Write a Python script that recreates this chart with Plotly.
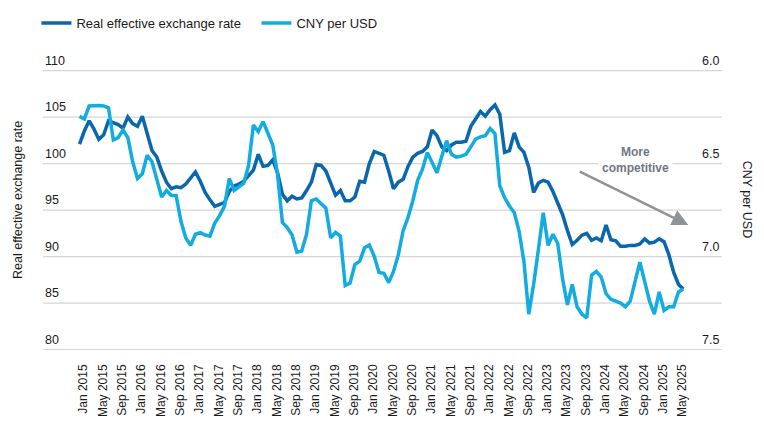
import plotly.graph_objects as go

# month categories Jan 2015 .. Jun 2025
years = list(range(2015, 2026))
month_names = ["Jan", "Feb", "Mar", "Apr", "May", "Jun",
               "Jul", "Aug", "Sep", "Oct", "Nov", "Dec"]
months = [m + " " + str(y) for y in years for m in month_names][:126]
tick_labels = months[::4]

# real effective exchange rate (left axis)
reer = [
    102.1, 103.5, 104.6, 103.7, 102.6, 103.1, 104.6, 104.4, 104.2, 103.8, 105.0, 104.3,
    104.0, 105.1, 103.1, 101.4, 100.7, 99.2, 98.0, 97.3, 97.5, 97.4, 97.8, 98.5,
    99.1, 98.1, 96.9, 96.1, 95.4, 95.6, 95.8, 97.0, 97.6, 97.8, 98.1, 98.7,
    99.3, 101.0, 99.7, 99.8, 100.4, 99.0, 96.7, 96.0, 96.5, 96.2, 96.3, 97.1,
    98.0, 99.9, 99.8, 99.2, 97.8, 96.6, 97.1, 96.0, 96.0, 96.4, 98.1, 98.0,
    100.0, 101.3, 101.1, 100.9, 99.2, 97.3, 98.0, 98.3, 99.7, 100.7, 101.1, 101.3,
    101.8, 103.6, 103.0, 101.8, 101.4, 102.0, 102.3, 102.3, 102.4, 104.0, 104.8, 105.6,
    105.1, 105.8, 106.3, 105.3, 101.2, 101.4, 103.3, 101.8, 101.2, 99.6, 96.9, 97.9,
    98.2, 98.0, 97.0, 95.8, 94.5, 92.8, 91.3, 91.75, 92.3, 92.5, 91.75, 92.0,
    91.7, 93.4, 91.8, 91.7, 91.1, 91.1, 91.2, 91.2, 91.35, 91.9, 91.45, 91.55,
    91.9, 91.6, 90.2, 88.3, 87.0, 86.5,
]

# CNY per USD (right axis, inverted)
cny = [
    6.246, 6.26, 6.19, 6.188, 6.188, 6.19, 6.20, 6.373, 6.36, 6.32, 6.36, 6.49,
    6.58, 6.555, 6.455, 6.49, 6.59, 6.68, 6.645, 6.672, 6.672, 6.81, 6.90, 6.94,
    6.88, 6.871, 6.884, 6.89, 6.82, 6.78, 6.73, 6.58, 6.645, 6.625, 6.605, 6.51,
    6.292, 6.328, 6.274, 6.337, 6.40, 6.56, 6.817, 6.844, 6.884, 6.976, 6.97, 6.88,
    6.70, 6.69, 6.717, 6.74, 6.90, 6.87, 6.89, 7.156, 7.143, 7.043, 7.025, 6.953,
    6.938, 6.998, 7.085, 7.09, 7.14, 7.08, 6.99, 6.86, 6.79, 6.70, 6.59, 6.53,
    6.44, 6.50, 6.55, 6.46, 6.377, 6.45, 6.465, 6.46, 6.45, 6.41, 6.368, 6.356,
    6.35, 6.312, 6.339, 6.62, 6.683, 6.728, 6.764, 6.864, 7.027, 7.31, 7.15, 6.96,
    6.765, 6.94, 6.88, 6.93, 7.12, 7.26, 7.15, 7.27, 7.31, 7.33, 7.10, 7.08,
    7.11, 7.20, 7.23, 7.24, 7.25, 7.27, 7.24, 7.135, 7.03, 7.135, 7.24, 7.31,
    7.19, 7.29, 7.27, 7.27, 7.19, 7.175,
]

reer_ticks = [80, 85, 90, 95, 100, 105, 110]
cny_ticks = [6.0, 6.5, 7.0, 7.5]

DARK = "#0b67ab"
LIGHT = "#12ace0"
GREY = "#8f9397"
TEXT_GREY = "#6f7782"
GRID = "#d6d6d6"
FONT = "Liberation Sans"

fig = go.Figure()
fig.add_trace(go.Scatter(x=months, y=reer, name="Real effective exchange rate",
                         mode="lines", line=dict(color=DARK, width=3.5)))
fig.add_trace(go.Scatter(x=months, y=cny, name="CNY per USD", yaxis="y2",
                         mode="lines", line=dict(color=LIGHT, width=3.5)))

# gridlines at the left-axis ticks, drawn under the lines
for v in reer_ticks:
    fig.add_shape(type="line", xref="paper", yref="y", x0=0, x1=1, y0=v, y1=v,
                  line=dict(color=GRID, width=1.3), layer="below")

# tick labels sit above the gridlines, so they are drawn as annotations
tick_notes = []
for v in reer_ticks:
    tick_notes.append(dict(text=str(v), xref="paper", yref="y", x=0, y=v,
                           xanchor="left", yanchor="middle", yshift=10,
                           xshift=0, showarrow=False, font=dict(size=12.5)))
for v in cny_ticks:
    tick_notes.append(dict(text="%.1f" % v, xref="paper", yref="y2", x=1, y=v,
                           xanchor="right", yanchor="middle", yshift=10,
                           xshift=-1, showarrow=False, font=dict(size=12.5)))

# page body has an 8px margin, so the figure is a bit smaller than the window
fig.update_layout(
    width=748, height=421,
    margin=dict(l=35, r=34, t=44, b=79),
    plot_bgcolor="rgba(0,0,0,0)", paper_bgcolor="white",
    font=dict(family=FONT, size=12, color="#1a1a1a"),
    showlegend=True,
    legend=dict(orientation="h", xref="container", yref="container",
                x=0.038, y=0.964, xanchor="left", yanchor="middle",
                font=dict(size=13), itemwidth=30,
                entrywidth=175, entrywidthmode="pixels"),
    xaxis=dict(type="category", range=[-7.56, 133.0], tickvals=tick_labels,
               tickangle=-90, showgrid=False, ticks="", showline=False,
               zeroline=False, tickfont=dict(size=12),
               ticklabelstandoff=11, ticklabelshift=4),
    yaxis=dict(range=[79.95, 112], tickvals=reer_ticks, showticklabels=False,
               showgrid=False, zeroline=False, showline=False, ticks=""),
    yaxis2=dict(overlaying="y", side="right", range=[7.5025, 5.9],
                tickvals=cny_ticks, showticklabels=False, showgrid=False,
                zeroline=False, showline=False, ticks=""),
    annotations=tick_notes + [
        dict(text="Real effective exchange rate", xref="paper", yref="paper",
             x=-0.037, y=0.503, xanchor="center", yanchor="middle",
             textangle=-90, showarrow=False, font=dict(size=12.5)),
        dict(text="CNY per USD", xref="paper", yref="paper",
             x=1.036, y=0.503, xanchor="center", yanchor="middle",
             textangle=90, showarrow=False, font=dict(size=12.5)),
        dict(text="<b>More<br>competitive</b>", xref="paper", yref="paper",
             x=0.872, y=0.6376, xanchor="center", yanchor="middle",
             showarrow=False, bgcolor="white", borderpad=3,
             font=dict(size=12, color=TEXT_GREY)),
        dict(text="", xref="paper", yref="paper", x=0.9504, y=0.4195,
             ax=-110, ay=-54, showarrow=True, arrowhead=2, arrowsize=1.3,
             arrowwidth=2.5, arrowcolor=GREY),
    ],
)

fig.write_html("out.html")
